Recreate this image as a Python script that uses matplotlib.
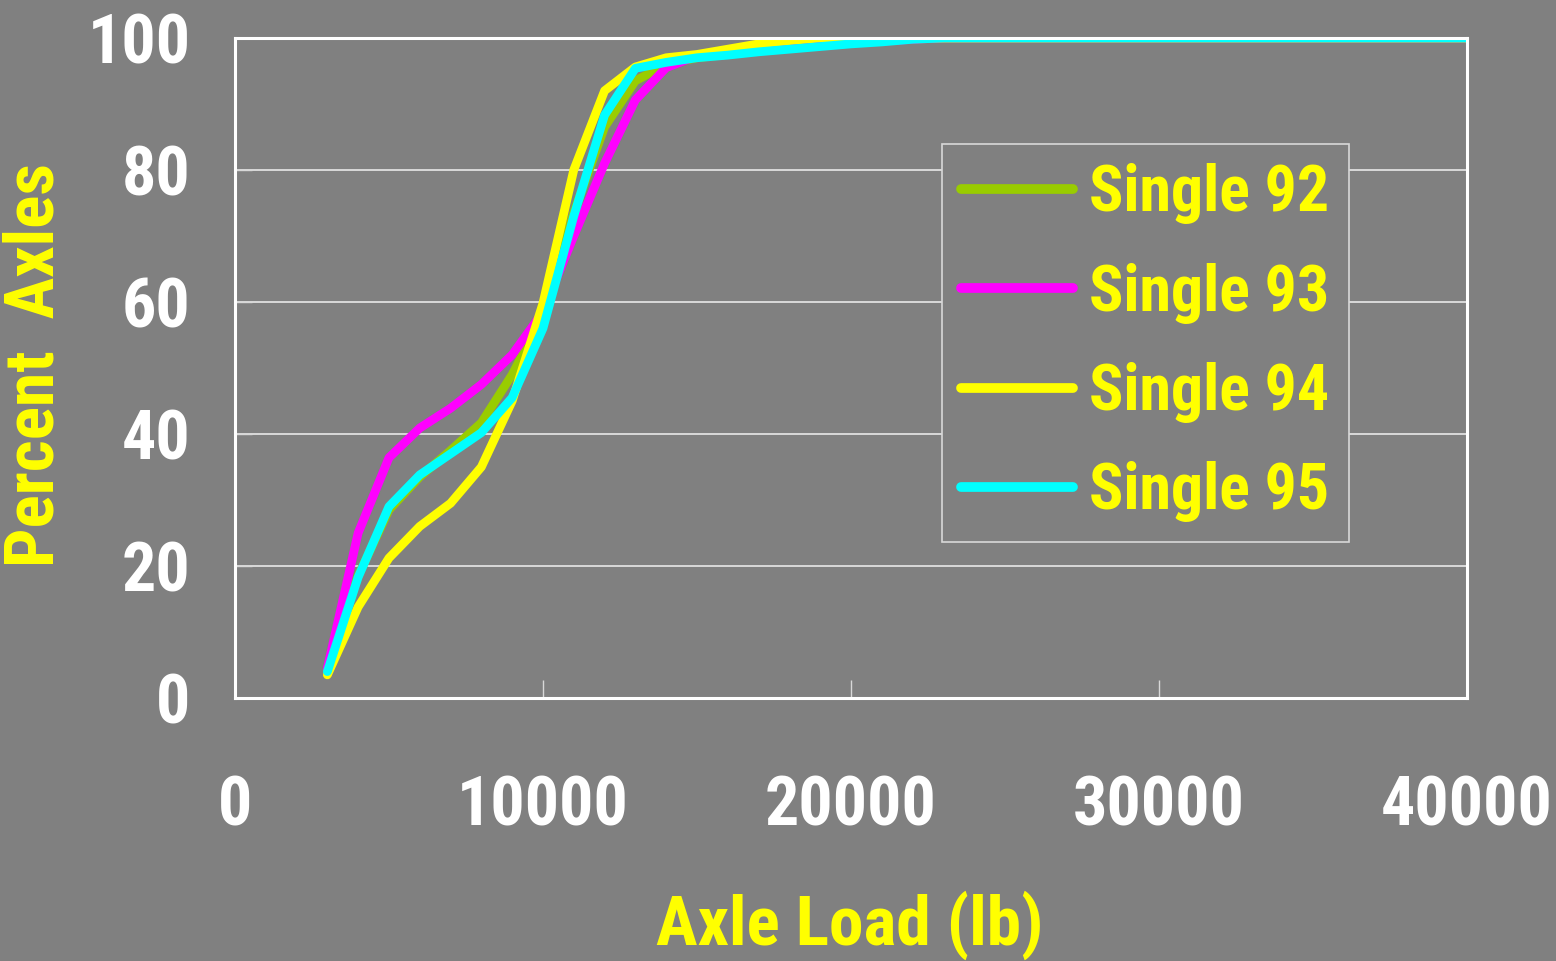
import numpy as np
import matplotlib.pyplot as plt
from matplotlib import font_manager as fm

# axle load bins (lb) and cumulative percent of axles per year
loads = [3000, 4000, 5000, 6000, 7000, 8000, 9000, 10000, 11000, 12000,
         13000, 14000, 15000, 16000, 17000, 18000, 19000, 20000, 21000,
         22000, 23000, 24000, 25000, 26000, 28000, 30000, 32000, 34000,
         36000, 38000, 40000]

single_92 = [4.0, 18.5, 28.5, 33.5, 37.5, 41.7, 49.0, 58.0, 73.5, 86.5,
             93.5, 96.0, 97.0, 97.5, 98.2, 98.7, 99.1, 99.4, 99.6,
             99.8, 100, 100, 100, 100, 100, 100, 100, 100, 100, 100, 100]
single_93 = [4.5, 25.0, 36.4, 40.9, 43.9, 47.5, 52.0, 58.5, 70.0, 81.0,
             90.6, 95.5, 97.3, 98.0, 98.5, 98.9, 99.1, 99.3, 99.5,
             99.8, 100, 100, 100, 100, 100, 100, 100, 100, 100, 100, 100]
single_94 = [3.5, 13.8, 21.2, 26.0, 29.5, 35.0, 45.0, 59.8, 80.0, 92.0,
             95.6, 97.0, 97.5, 98.3, 99.1, 99.6, 100, 100, 100,
             100, 100, 100, 100, 100, 100, 100, 100, 100, 100, 100, 100]
single_95 = [4.0, 18.3, 29.0, 33.8, 37.0, 40.2, 45.5, 56.0, 73.0, 88.3,
             95.4, 96.3, 97.0, 97.4, 97.9, 98.3, 98.7, 99.1, 99.4,
             99.8, 100, 100, 100, 100, 100, 100, 100, 100, 100, 100, 100]

series_names = ['Single 92', 'Single 93', 'Single 94', 'Single 95']
series_colors = ['#99cc00', '#ff00ff', '#ffff00', '#00ffff']

x_ticks = [0, 10000, 20000, 30000, 40000]
y_ticks = [0, 20, 40, 60, 80, 100]

# pick a narrow bold sans (the original looks like Arial Narrow Bold)
wanted = ['Liberation Sans Narrow', 'Arial Narrow', 'Archivo Narrow',
          'Roboto Condensed', 'PT Sans Narrow', 'Pragati Narrow',
          'Encode Sans Condensed', 'IBM Plex Sans Condensed']
have = {f.name for f in fm.fontManager.ttflist if f.weight in (700, 'bold')}
narrow = [n for n in wanted if n in have]
BG = '#808080'
plt.rcParams['font.family'] = narrow[:1] + ['Liberation Sans', 'DejaVu Sans']
plt.rcParams['font.weight'] = 'bold'

fig = plt.figure(figsize=(15.56, 9.61), dpi=100, facecolor=BG)
ax = fig.add_axes([0.151, 0.2737, 0.7918, 0.6868])
ax.set_facecolor(BG)

for vals, name, col in zip([single_92, single_93, single_94, single_95],
                           series_names, series_colors):
  ax.plot(loads, vals, color=col, lw=6.3, label=name,
          solid_capstyle='round', solid_joinstyle='round')

ax.set_xlim(0, 40000)
ax.set_ylim(0, 100)
ax.set_xticks(x_ticks)
ax.set_yticks(y_ticks)
ax.set_xticklabels([str(t) for t in x_ticks])
ax.set_yticklabels([str(t) for t in y_ticks])

ax.grid(axis='y', color='#e0e0e0', lw=1.3)
ax.set_axisbelow(True)
for s in ax.spines.values():
  s.set_color('white')
  s.set_linewidth(2.2)

ax.tick_params(axis='x', direction='in', length=13, width=1, color='#d8d8d8',
               pad=55, labelsize=49, labelcolor='white')
ax.tick_params(axis='y', direction='in', length=12, width=1, color='#d8d8d8',
               pad=32, labelsize=49, labelcolor='white')

ax.set_xlabel('Axle Load (lb)', fontsize=50, color='#ffff00', fontweight='bold',
              va='center')
ax.set_ylabel('Percent  Axles', fontsize=50, color='#ffff00', fontweight='bold',
              va='center')
ax.xaxis.set_label_coords(0.499, -0.345)
ax.yaxis.set_label_coords(-0.162, 0.505)

leg = ax.legend(loc='upper left', bbox_to_anchor=(0.574, 0.839),
                fontsize=46, labelcolor='#ffff00', frameon=True, fancybox=False,
                handlelength=1.75, handletextpad=0.25, labelspacing=0.6,
                borderpad=0.3, borderaxespad=0)
leg.get_frame().set_facecolor(BG)
leg.get_frame().set_edgecolor('#d8d8d8')
leg.get_frame().set_linewidth(1.2)
leg.get_frame().set_alpha(1)
for h in leg.get_lines():
  h.set_linewidth(7)

fig.savefig('out.png', dpi=100, facecolor=BG)
